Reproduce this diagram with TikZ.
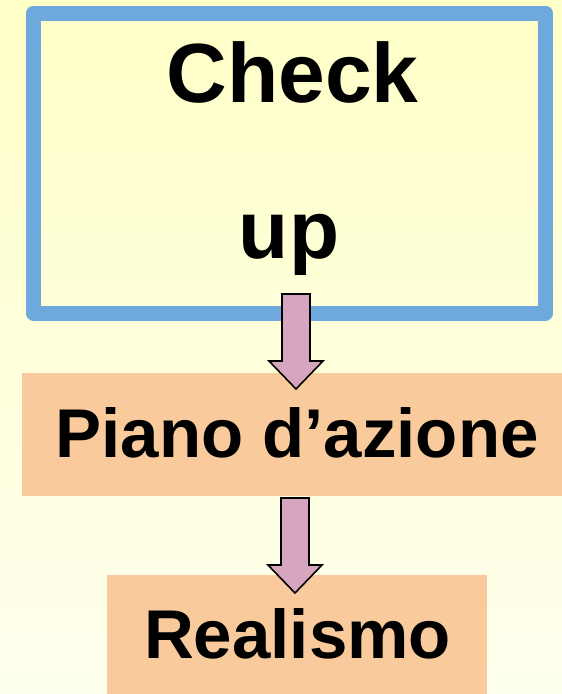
\documentclass[tikz,border=0pt]{standalone}
\usepackage{fontspec}
\setmainfont{Liberation Sans}
\definecolor{bgtop}{HTML}{FFFFC8}
\definecolor{bgbot}{HTML}{FFFFEE}
\definecolor{frameblue}{HTML}{6FA8DC}
\definecolor{peach}{HTML}{F9CB9C}
\definecolor{arrowpink}{HTML}{D5A6BD}
\begin{document}
\begin{tikzpicture}[x=1pt,y=-1pt,
  bigtext/.style={font=\fontsize{84}{84}\selectfont\bfseries, anchor=base, inner sep=0pt},
  uptext/.style={font=\fontsize{82}{82}\selectfont\bfseries, anchor=base, inner sep=0pt},
  midtext/.style={font=\fontsize{69}{69}\selectfont\bfseries, anchor=base, inner sep=0pt},
  blockdown/.pic={\filldraw[fill=arrowpink, draw=black, line width=1.6pt, line join=miter]
     (-14,0) -- (14,0) -- (14,67) -- (27,67) -- (0,95) -- (-27,67) -- (-14,67) -- cycle;}
]
\useasboundingbox (0,0) rectangle (562,694);
\shade[top color=bgtop, bottom color=bgbot] (0,0) rectangle (562,694);
% frame box
\draw[frameblue, line width=15pt, line join=round] (33.5,13) rectangle (545.5,313);
\coordinate (box1) at (289.5,163);
% peach boxes
\fill[peach] (22,373) rectangle (562,496);
\coordinate (box2) at (292,434.5);
\fill[peach] (107,575) rectangle (487,694);
\coordinate (box3) at (297,634.5);
% arrows
\pic (arrowA) at (296,294) {blockdown};
\pic (arrowB) at (295,498) {blockdown};
% texts
\node[bigtext] (check) at (292.5,102) {Check};
\node[uptext] (up) at (289,258) {up};
\node[midtext] (piano) at (297,457) {Piano d’azione};
\node[midtext] (real) at (297.5,658) {Realismo};
\end{tikzpicture}
\end{document}
